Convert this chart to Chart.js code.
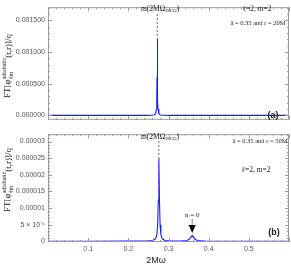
<!DOCTYPE html>
<html lang="en">
<head>
    <meta charset="UTF-8">
    <title>FT adiabatic spectrum</title>
    <script src="https://cdn.jsdelivr.net/npm/chart.js"></script>
    <style>
        body { margin: 0; background: #fff; }
        #top-box { position: absolute; left: 0; top: 0; width: 291px; height: 127px; }
        #bot-box { position: absolute; left: 0; top: 127px; width: 291px; height: 139px; }
    </style>
</head>
<body>
    <div id="top-box"><canvas id="topChart" width="291" height="127"></canvas></div>
    <div id="bot-box"><canvas id="botChart" width="291" height="139"></canvas></div>

    <script>
        // panel (a): a = 0.35, r = 20M
        var topFreq = [0, 0.05, 0.1, 0.15, 0.2, 0.242, 0.257, 0.264, 0.268, 0.270, 0.2708, 0.2714, 0.272, 0.2726, 0.2732, 0.274, 0.276, 0.28, 0.287, 0.302, 0.35, 0.4, 0.5, 0.6];
        var topAmp = [0, 0, 0, 0, 0, 0.0000005, 0.0000019, 0.0000068, 0.000027, 0.000101, 0.000242, 0.000605, 0.00121, 0.000605, 0.000242, 0.000101, 0.000027, 0.0000068, 0.0000019, 0.0000005, 0.0000001, 0, 0, 0];
        var topTicks = [0, 0.0005, 0.001, 0.0015];
        var topPeakFreq = 0.272;

        // panel (b): a = 0.35, r = 50M
        var botFreq = [0, 0.1, 0.2, 0.246, 0.261, 0.268, 0.271, 0.273, 0.2745, 0.276, 0.2775, 0.279, 0.281, 0.284, 0.291, 0.306, 0.33, 0.345, 0.351, 0.355, 0.357, 0.359, 0.361, 0.363, 0.367, 0.373, 0.39, 0.42, 0.5, 0.6];
        var botAmp = [0, 0.00000002, 0.00000005, 0.00000006, 0.00000025, 0.00000084, 0.00000205, 0.00000496, 0.0000124, 0.0000248, 0.0000124, 0.00000496, 0.00000205, 0.00000084, 0.00000025, 0.00000012, 0.00000012, 0.00000025, 0.00000055, 0.0000011, 0.0000015, 0.0000018, 0.0000015, 0.0000011, 0.00000055, 0.00000025, 0.00000008, 0.00000003, 0, 0];
        var botTicks = [0, 0.000005, 0.00001, 0.000015, 0.00002, 0.000025, 0.00003];
        var botTickLabels = ['0', '5 \u00d7 10\u207b\u2076', '0.00001', '0.000015', '0.00002', '0.000025', '0.00003'];
        var botPeakFreq = 0.276;
        var qnmFreq = 0.359;

        var xTicks = [0.1, 0.2, 0.3, 0.4, 0.5];

        var blue = '#1a1aff';
        var serif = '"Liberation Serif", "DejaVu Serif", serif';
        var sans = '"Liberation Sans", Arial, sans-serif';

        function toPoints(xs, ys) {
            return xs.map(function (x, i) { return { x: x, y: ys[i] }; });
        }

        // draws a list of text pieces: [text, size, yOffset]
        function richText(ctx, parts, x, y, align) {
            var total = 0;
            parts.forEach(function (p) {
                ctx.font = p[1] + 'px ' + serif;
                total += ctx.measureText(p[0]).width;
            });
            var cx = align === 'center' ? x - total / 2 : x;
            ctx.textAlign = 'left';
            ctx.textBaseline = 'middle';
            parts.forEach(function (p) {
                ctx.font = p[1] + 'px ' + serif;
                ctx.fillText(p[0], cx, y + p[2]);
                cx += ctx.measureText(p[0]).width;
            });
        }

        function yTitle(ctx, cy) {
            ctx.save();
            ctx.translate(8, cy);
            ctx.rotate(-Math.PI / 2);
            ctx.fillStyle = '#222';
            ctx.textBaseline = 'middle';
            ctx.textAlign = 'left';
            ctx.font = '9px ' + serif;
            var w1 = ctx.measureText('FT[\u03c6').width;
            var w3 = ctx.measureText('(t,r)]/q').width;
            ctx.font = '6px ' + serif;
            var w2 = ctx.measureText('adiabatic').width;
            var x0 = -(w1 + w2 + w3) / 2;
            ctx.font = '9px ' + serif;
            ctx.fillText('FT[\u03c6', x0, 0);
            ctx.fillText('(t,r)]/q', x0 + w1 + w2, 1);
            ctx.font = '6px ' + serif;
            ctx.fillText('adiabatic', x0 + w1, -4);
            ctx.fillText('\u2113m', x0 + w1, 3);
            ctx.restore();
        }

        // frame with inward ticks, like the original
        function drawFrame(chart, yMajor, yMinorStep) {
            var ctx = chart.ctx;
            var a = chart.chartArea;
            var xs = chart.scales.x, ys = chart.scales.y;
            ctx.save();
            ctx.strokeStyle = '#9a9a9a';
            ctx.lineWidth = 1;
            ctx.strokeRect(a.left + 0.5, a.top + 0.5, a.right - a.left - 1, a.bottom - a.top - 1);
            ctx.beginPath();
            for (var v = 0; v <= 0.6001; v += 0.02) {
                var px = Math.round(xs.getPixelForValue(v)) + 0.5;
                var major = Math.abs(v * 10 - Math.round(v * 10)) < 1e-6;
                var len = major ? 4 : 2;
                ctx.moveTo(px, a.bottom); ctx.lineTo(px, a.bottom - len);
                ctx.moveTo(px, a.top); ctx.lineTo(px, a.top + len);
            }
            for (var k = 0; k * yMinorStep <= ys.max; k++) {
                var val = k * yMinorStep;
                var py = Math.round(ys.getPixelForValue(val)) + 0.5;
                var isMajor = yMajor.some(function (t) { return Math.abs(t - val) < yMinorStep / 10; });
                var l2 = isMajor ? 4 : 2;
                ctx.moveTo(a.left, py); ctx.lineTo(a.left + l2, py);
                ctx.moveTo(a.right, py); ctx.lineTo(a.right - l2, py);
            }
            ctx.stroke();
            ctx.restore();
        }

        function dashTo(ctx, px, fromY, toY) {
            ctx.save();
            ctx.strokeStyle = '#666';
            ctx.setLineDash([2, 2]);
            ctx.beginPath();
            ctx.moveTo(px, fromY);
            ctx.lineTo(px, toY);
            ctx.stroke();
            ctx.restore();
        }

        function yAxis(ticks, minV, maxV, labelFn) {
            return {
                type: 'linear',
                min: minV,
                max: maxV,
                grid: { display: false, drawTicks: false },
                border: { display: false },
                afterBuildTicks: function (s) { s.ticks = ticks.map(function (v) { return { value: v }; }); },
                afterFit: function (s) { s.width = 48; },
                ticks: {
                    padding: 3,
                    color: '#555',
                    font: { size: 7, family: sans },
                    callback: labelFn
                }
            };
        }

        var topPlugin = {
            id: 'topDeco',
            afterDatasetsDraw: function (chart) {
                var ctx = chart.ctx;
                drawFrame(chart, topTicks, 0.0001);
                var xs = chart.scales.x, ys = chart.scales.y;
                var peak = topAmp[topFreq.indexOf(topPeakFreq)];
                dashTo(ctx, xs.getPixelForValue(topPeakFreq), 14, ys.getPixelForValue(peak));
                ctx.save();
                ctx.fillStyle = '#222';
                richText(ctx, [['m(2M\u03a9', 7.5, 0], ['ISCO', 5, 2], [')', 7.5, 0]], 141, 9, 'left');
                richText(ctx, [['\u2113=2, m=2', 7.5, 0]], 257, 9, 'center');
                richText(ctx, [['\u00e2 = 0.35 and r = 20M', 6.5, 0]], 258, 23, 'center');
                ctx.font = 'bold 9px ' + sans;
                ctx.textAlign = 'center';
                ctx.fillText('(a)', 273, 116);
                ctx.restore();
                yTitle(ctx, 66);
            }
        };

        var botPlugin = {
            id: 'botDeco',
            afterDatasetsDraw: function (chart) {
                var ctx = chart.ctx;
                drawFrame(chart, botTicks, 0.000001);
                var xs = chart.scales.x, ys = chart.scales.y;
                var peak = botAmp[botFreq.indexOf(botPeakFreq)];
                dashTo(ctx, xs.getPixelForValue(botPeakFreq), 14, ys.getPixelForValue(peak));
                ctx.save();
                ctx.fillStyle = '#222';
                richText(ctx, [['m(2M\u03a9', 7.5, 0], ['ISCO', 5, 2], [')', 7.5, 0]], 141, 10, 'left');
                richText(ctx, [['\u00e2 = 0.35 and r = 50M', 6.5, 0]], 260, 14, 'center');
                richText(ctx, [['\u2113=2, m=2', 7.5, 0]], 256, 43, 'center');
                // n = 0 arrow
                var qx = xs.getPixelForValue(qnmFreq);
                richText(ctx, [['n = 0', 7, 0]], qx, 88, 'center');
                ctx.strokeStyle = '#888';
                ctx.beginPath();
                ctx.moveTo(qx, 92); ctx.lineTo(qx, 99);
                ctx.stroke();
                ctx.fillStyle = '#000';
                ctx.beginPath();
                ctx.moveTo(qx - 3.5, 98); ctx.lineTo(qx + 3.5, 98); ctx.lineTo(qx, 106);
                ctx.closePath();
                ctx.fill();
                ctx.fillStyle = '#222';
                ctx.font = 'bold 9px ' + sans;
                ctx.textAlign = 'center';
                ctx.fillText('(b)', 274, 106);
                ctx.font = '9px ' + sans;
                ctx.fillText('2M\u03c9', 156, 134);
                ctx.restore();
                yTitle(ctx, 53);
            }
        };

        new Chart(document.getElementById('topChart').getContext('2d'), {
            type: 'line',
            data: { datasets: [{ data: toPoints(topFreq, topAmp), borderColor: blue, borderWidth: 1.1, pointRadius: 0, tension: 0, fill: false }] },
            options: {
                responsive: false,
                animation: false,
                devicePixelRatio: 1,
                layout: { padding: { top: 1, bottom: 1, right: 2, left: 0 } },
                plugins: { legend: { display: false }, tooltip: { enabled: false } },
                scales: {
                    x: { type: 'linear', min: 0, max: 0.6, display: false },
                    y: yAxis(topTicks, -0.00007, 0.00171, function (v) { return v.toFixed(6); })
                }
            },
            plugins: [topPlugin]
        });

        new Chart(document.getElementById('botChart').getContext('2d'), {
            type: 'line',
            data: { datasets: [{ data: toPoints(botFreq, botAmp), borderColor: blue, borderWidth: 1.1, pointRadius: 0, tension: 0, fill: false }] },
            options: {
                responsive: false,
                animation: false,
                devicePixelRatio: 1,
                layout: { padding: { top: 0, bottom: 0, right: 2, left: 0 } },
                plugins: { legend: { display: false }, tooltip: { enabled: false } },
                scales: {
                    x: {
                        type: 'linear',
                        min: 0,
                        max: 0.6,
                        grid: { display: false, drawTicks: false },
                        border: { display: false },
                        afterBuildTicks: function (s) { s.ticks = xTicks.map(function (v) { return { value: v }; }); },
                        afterFit: function (s) { s.height = 24; },
                        ticks: {
                            padding: 3,
                            maxRotation: 0,
                            color: '#555',
                            font: { size: 7, family: sans },
                            callback: function (v) { return v.toFixed(1); }
                        }
                    },
                    y: yAxis(botTicks, -0.0000002, 0.0000322, function (v, i) { return botTickLabels[i]; })
                }
            },
            plugins: [botPlugin]
        });
    </script>
</body>
</html>
